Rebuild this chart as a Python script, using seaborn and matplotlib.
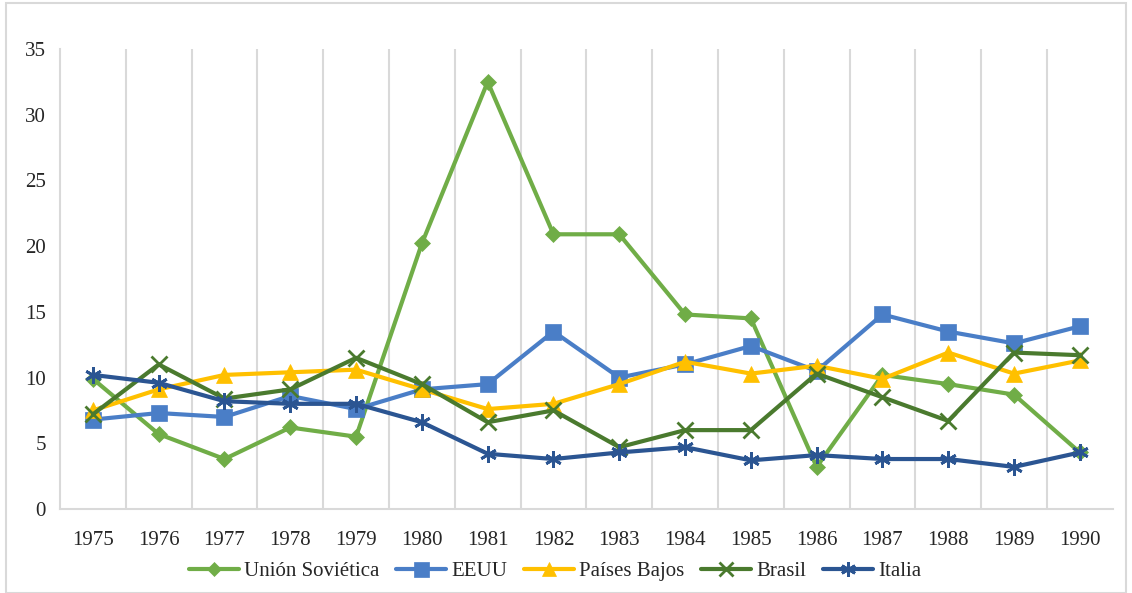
import matplotlib.pyplot as plt
import seaborn as sns
import pandas as pd

years = [str(y) for y in range(1975, 1991)]

union_sovietica = [9.9, 5.7, 3.8, 6.2, 5.5, 20.2, 32.5, 20.9, 20.9, 14.8, 14.5, 3.2, 10.2, 9.5, 8.7, 4.3]
eeuu = [6.8, 7.3, 7.0, 8.6, 7.6, 9.1, 9.5, 13.5, 10.0, 11.0, 12.4, 10.5, 14.8, 13.5, 12.6, 13.9]
paises_bajos = [7.5, 9.1, 10.2, 10.4, 10.6, 9.1, 7.6, 8.0, 9.5, 11.2, 10.3, 10.9, 9.9, 11.9, 10.3, 11.3]
brasil = [7.2, 11.0, 8.4, 9.1, 11.5, 9.5, 6.6, 7.5, 4.7, 6.0, 6.0, 10.3, 8.5, 6.7, 11.9, 11.7]
italia = [10.2, 9.6, 8.2, 8.0, 8.0, 6.6, 4.2, 3.8, 4.3, 4.7, 3.7, 4.1, 3.8, 3.8, 3.2, 4.3]

series = {
    "Unión Soviética": union_sovietica,
    "EEUU": eeuu,
    "Países Bajos": paises_bajos,
    "Brasil": brasil,
    "Italia": italia,
}
colors = ["#70AD47", "#4A7EC7", "#FFC000", "#4A7A2E", "#2B5592"]
markers = ["D", "s", "^", "x", (6, 2, 0)]
msizes = [8, 12, 11, 11, 12]

sns.set_style("white")
plt.rcParams["font.family"] = ["Liberation Serif", "DejaVu Serif"]

fig = plt.figure(figsize=(11.32, 5.93), dpi=100)
ax = fig.add_axes([0.053, 0.1417, 0.93, 0.7757])

x = list(range(len(years)))
for (name, vals), c, m, ms in zip(series.items(), colors, markers, msizes):
    df = pd.DataFrame({"x": x, "y": vals})
    thin = m == "x" or isinstance(m, tuple)
    sns.lineplot(data=df, x="x", y="y", ax=ax, color=c, linewidth=3,
                 marker=m, markersize=ms, markeredgecolor=c,
                 markeredgewidth=2 if thin else 0.5, label=name)

ax.set_xlim(-0.5, 15.5)
ax.set_ylim(0, 35)
ax.set_xticks(x)
ax.set_xticklabels(years, fontsize=15)
ax.set_yticks(range(0, 36, 5))
ax.set_yticklabels([str(v) for v in range(0, 36, 5)], fontsize=15)
ax.tick_params(axis="x", length=0, pad=16)
ax.tick_params(axis="y", length=0, pad=10)
ax.set_xlabel("")
ax.set_ylabel("")

for b in [i + 0.5 for i in range(15)]:
    ax.axvline(b, color="#D9D9D9", linewidth=1.5, zorder=0)

for s in ["top", "right"]:
    ax.spines[s].set_visible(False)
for s in ["left", "bottom"]:
    ax.spines[s].set_color("#D9D9D9")
    ax.spines[s].set_linewidth(1.5)

ax.legend(loc="center", bbox_to_anchor=(0.47, -0.135), ncol=5, frameon=False,
          fontsize=15, handlelength=2.4, columnspacing=0.8, handletextpad=0.25,
          markerscale=0.9)

border = plt.Rectangle((0.005, 0.0), 0.99, 0.995, transform=fig.transFigure,
                       fill=False, edgecolor="#D9D9D9", linewidth=1.5)
fig.patches.append(border)

plt.savefig("out.png", dpi=100)
